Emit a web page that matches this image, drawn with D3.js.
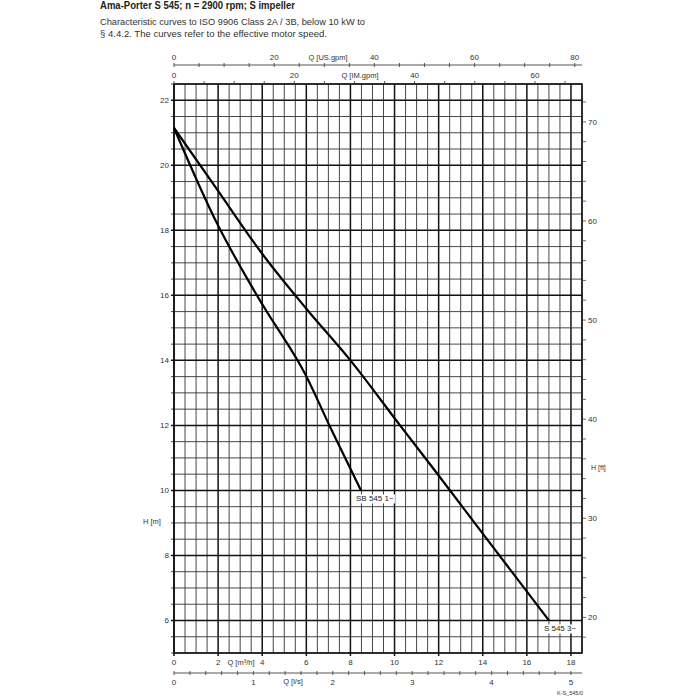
<!DOCTYPE html>
<html><head><meta charset="utf-8">
<script src="https://cdn.jsdelivr.net/npm/d3@7"></script>
<style>body{margin:0;background:#fff}svg{display:block}</style>
</head><body>
<svg id="c" width="700" height="700"></svg>
<script>
// ---- data ----
const titleText = "Ama-Porter S 545; n = 2900 rpm; S impeller";
const subtitleLines = ["Characteristic curves to ISO 9906 Class 2A / 3B, below 10 kW to",
                       "§ 4.4.2. The curves refer to the effective motor speed."];
const qS3  = [0, 2, 3.45, 4, 6, 8, 10.25, 12, 14, 17];          // Q [m³/h]
const hS3  = [21.15, 19.21, 17.79, 17.28, 15.59, 14.0, 12.0, 10.46, 8.67, 6.0]; // H [m]
const qSB1 = [0, 1.96, 3.45, 4.08, 5.94, 7.15, 8.48];
const hSB1 = [21.15, 18.2, 16.36, 15.64, 13.59, 11.85, 10.0];
const seriesNames = ["S 545 3~", "SB 545 1~"];
const m3hTicks = [0, 2, 4, 6, 8, 10, 12, 14, 16, 18];
const lsLabels = [0, 1, 2, 3, 4, 5];
const usLabels = [0, 20, 40, 60, 80];
const imLabels = [0, 20, 40, 60];
const hmLabels = [6, 8, 10, 12, 14, 16, 18, 20, 22];
const hftLabels = [20, 30, 40, 50, 60, 70];
const footnote = "K-S_545/0";

// ---- conversions ----
const US_PER_M3H = 4.40287, IM_PER_M3H = 3.66615, M3H_PER_LS = 3.6, FT_PER_M = 3.28084;

const svg = d3.select("#c");
const x = d3.scaleLinear().domain([0, 18.5]).range([174, 582]);
const y = d3.scaleLinear().domain([5, 22.5]).range([653, 84]);
const xUS = d3.scaleLinear().domain([0, 18.5 * US_PER_M3H]).range(x.range());
const xIM = d3.scaleLinear().domain([0, 18.5 * IM_PER_M3H]).range(x.range());
const xLS = d3.scaleLinear().domain([0, 18.5 / M3H_PER_LS]).range(x.range());
const yFT = d3.scaleLinear().domain([5 * FT_PER_M, 22.5 * FT_PER_M]).range(y.range());

const font = "Liberation Sans, Arial, sans-serif";
const tc = "#333";

// title
svg.append("text").attr("x", 100).attr("y", 9).attr("font-family", font)
  .attr("font-weight", "bold").attr("font-size", 11).attr("fill", "#222")
  .attr("textLength", 195).attr("lengthAdjust", "spacingAndGlyphs").text(titleText);
const subW = [265, 227];
subtitleLines.forEach((t, i) => {
  svg.append("text").attr("x", 100).attr("y", 25 + i * 11.7).attr("font-family", font)
    .attr("font-size", 9).attr("fill", "#333")
    .attr("textLength", subW[i]).attr("lengthAdjust", "spacingAndGlyphs").text(t);
});

// grid
const g = svg.append("g");
const x0 = x.range()[0], x1 = x.range()[1], y0 = y.range()[0], y1 = y.range()[1];
const vMinor = d3.range(0, 18.51, 0.5);
const hMinor = d3.range(5, 22.51, 0.5);
g.selectAll("line.v").data(vMinor).join("line")
  .attr("x1", d => x(d)).attr("x2", d => x(d)).attr("y1", y1).attr("y2", d => y0 + (d % 2 === 0 ? 3 : 0))
  .attr("stroke", d => (d % 2 === 0 ? "#111" : "#333")).attr("stroke-width", d => (d % 2 === 0 ? 1.5 : 0.9));
g.selectAll("line.h").data(hMinor).join("line")
  .attr("y1", d => y(d)).attr("y2", d => y(d)).attr("x1", x0 - 3).attr("x2", x1)
  .attr("stroke", d => (d % 2 === 0 ? "#111" : "#333")).attr("stroke-width", d => (d % 2 === 0 ? 1.5 : 0.9));
svg.append("rect").attr("x", x0).attr("y", y1).attr("width", x1 - x0).attr("height", y0 - y1)
  .attr("fill", "none").attr("stroke", "#111").attr("stroke-width", 1.6);

// left axis labels
svg.append("g").selectAll("text").data(hmLabels).join("text")
  .attr("x", x0 - 5).attr("y", d => y(d) + 3).attr("text-anchor", "end")
  .attr("font-family", font).attr("font-size", 8).attr("fill", tc).text(d => d);
svg.append("text").attr("x", 152).attr("y", 524).attr("text-anchor", "middle")
  .attr("font-family", font).attr("font-size", 7.5).attr("fill", tc).text("H [m]");

// right axis (ft)
const ftTicks = d3.range(18, 74, 2);
svg.append("g").selectAll("line").data(ftTicks).join("line")
  .attr("x1", x1).attr("x2", x1 + 4).attr("y1", d => yFT(d)).attr("y2", d => yFT(d))
  .attr("stroke", "#444").attr("stroke-width", 0.8);
svg.append("g").selectAll("text").data(hftLabels).join("text")
  .attr("x", x1 + 6).attr("y", d => yFT(d) + 3).attr("font-family", font)
  .attr("font-size", 8).attr("fill", tc).text(d => d);
svg.append("text").attr("x", 591).attr("y", 470).attr("font-family", font)
  .attr("font-size", 7).attr("fill", tc).text("H [ft]");

// top US.gpm axis
const yUS = 65;
svg.append("line").attr("x1", x0).attr("x2", x1).attr("y1", yUS).attr("y2", yUS)
  .attr("stroke", "#555").attr("stroke-width", 1);
svg.append("g").selectAll("line").data(d3.range(0, 81, 5)).join("line")
  .attr("x1", d => xUS(d)).attr("x2", d => xUS(d)).attr("y1", yUS - 2).attr("y2", yUS + 2)
  .attr("stroke", "#444").attr("stroke-width", 0.9);
svg.append("g").selectAll("text").data(usLabels).join("text")
  .attr("x", d => xUS(d)).attr("y", 60).attr("text-anchor", "middle")
  .attr("font-family", font).attr("font-size", 8).attr("fill", tc).text(d => d);
svg.append("text").attr("x", 328).attr("y", 60).attr("text-anchor", "middle")
  .attr("font-family", font).attr("font-size", 7.5).attr("fill", tc).text("Q [US.gpm]");

// top IM.gpm axis (on the plot border)
svg.append("g").selectAll("line").data(d3.range(0, 66, 5)).join("line")
  .attr("x1", d => xIM(d)).attr("x2", d => xIM(d)).attr("y1", y1 - 3).attr("y2", y1)
  .attr("stroke", "#444").attr("stroke-width", 0.9);
svg.append("g").selectAll("text").data(imLabels).join("text")
  .attr("x", d => xIM(d)).attr("y", 78).attr("text-anchor", "middle")
  .attr("font-family", font).attr("font-size", 8).attr("fill", tc).text(d => d);
svg.append("text").attr("x", 360).attr("y", 78).attr("text-anchor", "middle")
  .attr("font-family", font).attr("font-size", 7.5).attr("fill", tc).text("Q [IM.gpm]");

// bottom m³/h labels
svg.append("g").selectAll("text").data(m3hTicks).join("text")
  .attr("x", d => x(d)).attr("y", 665).attr("text-anchor", "middle")
  .attr("font-family", font).attr("font-size", 8).attr("fill", tc).text(d => d);
svg.append("text").attr("x", 241).attr("y", 665).attr("text-anchor", "middle")
  .attr("font-family", font).attr("font-size", 7.5).attr("fill", tc).text("Q [m³/h]");

// bottom l/s axis
const yLS = 673;
svg.append("line").attr("x1", x0).attr("x2", x1).attr("y1", yLS).attr("y2", yLS)
  .attr("stroke", "#555").attr("stroke-width", 1);
svg.append("g").selectAll("line").data(d3.range(0, 5.01, 0.2)).join("line")
  .attr("x1", d => xLS(d)).attr("x2", d => xLS(d)).attr("y1", yLS - 2).attr("y2", yLS + 2)
  .attr("stroke", "#444").attr("stroke-width", 0.9);
svg.append("g").selectAll("text").data(lsLabels).join("text")
  .attr("x", d => xLS(d)).attr("y", 685).attr("text-anchor", "middle")
  .attr("font-family", font).attr("font-size", 8).attr("fill", tc).text(d => d);
svg.append("text").attr("x", 293).attr("y", 684).attr("text-anchor", "middle")
  .attr("font-family", font).attr("font-size", 7.5).attr("fill", tc).text("Q [l/s]");

svg.append("text").attr("x", 570).attr("y", 695).attr("text-anchor", "middle")
  .attr("font-family", font).attr("font-size", 5.5).attr("fill", tc).text(footnote);

// curves
const line = d3.line().x(d => x(d[0])).y(d => y(d[1])).curve(d3.curveMonotoneX);
const s3 = qS3.map((q, i) => [q, hS3[i]]);
const sb1 = qSB1.map((q, i) => [q, hSB1[i]]);
[s3, sb1].forEach(d => {
  svg.append("path").attr("d", line(d)).attr("fill", "none")
    .attr("stroke", "#000").attr("stroke-width", 2.2);
});

// curve labels
[[s3, seriesNames[0]], [sb1, seriesNames[1]]].forEach(([d, name]) => {
  const last = d[d.length - 1];
  const lx = x(last[0]) - 5, ly = y(last[1]) + 11;
  const t = svg.append("text").attr("x", lx).attr("y", ly).attr("font-family", font)
    .attr("font-size", 8).attr("fill", "#222").text(name);
  const bb = t.node().getBBox();
  svg.insert("rect", () => t.node()).attr("x", bb.x - 1).attr("y", bb.y).attr("width", bb.width + 2)
    .attr("height", bb.height).attr("fill", "#fff");
});
</script>
</body></html>
